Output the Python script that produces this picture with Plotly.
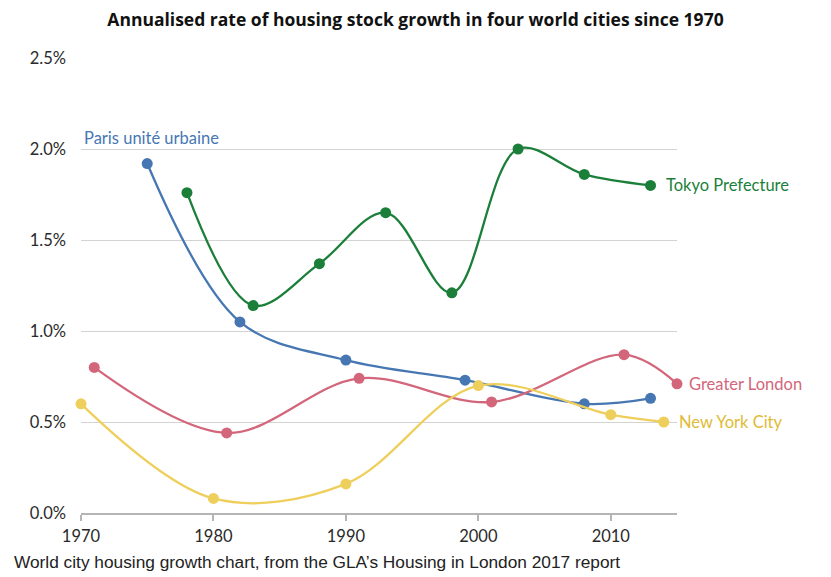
import plotly.graph_objects as go

paris_years = [1975, 1982, 1990, 1999, 2008, 2013]
paris_vals = [1.92, 1.05, 0.84, 0.73, 0.60, 0.63]

tokyo_years = [1978, 1983, 1988, 1993, 1998, 2003, 2008, 2013]
tokyo_vals = [1.76, 1.14, 1.37, 1.65, 1.21, 2.00, 1.86, 1.80]

london_years = [1971, 1981, 1991, 2001, 2011, 2015]
london_vals = [0.80, 0.44, 0.74, 0.61, 0.87, 0.71]

nyc_years = [1970, 1980, 1990, 2000, 2010, 2014]
nyc_vals = [0.60, 0.08, 0.16, 0.70, 0.54, 0.50]

x_ticks = [1970, 1980, 1990, 2000, 2010]
y_ticks = [0.0, 0.5, 1.0, 1.5, 2.0, 2.5]
y_tick_labels = ["0.0%", "0.5%", "1.0%", "1.5%", "2.0%", "2.5%"]

series = [
    ("Paris unité urbaine", paris_years, paris_vals, "#4677b3"),
    ("Tokyo Prefecture", tokyo_years, tokyo_vals, "#1b7f3a"),
    ("Greater London", london_years, london_vals, "#d3667a"),
    ("New York City", nyc_years, nyc_vals, "#efcf5c"),
]

W, H = 831, 577
ML, MR, MT, MB = 81, 154, 58, 64
PW, PH = W - ML - MR, H - MT - MB

fig = go.Figure()
for name, xs, ys, col in series:
    fig.add_trace(go.Scatter(
        x=xs, y=ys, name=name, mode="lines+markers",
        line=dict(color=col, width=2.3, shape="spline", smoothing=1.0),
        marker=dict(color=col, size=11),
        cliponaxis=False, showlegend=False,
    ))

label_font = "Lato, 'Open Sans', sans-serif"
lab_size = 16.5
fig.add_annotation(x=1970.05, y=2.0, xref="x", yref="y", text="Paris unité urbaine",
                   showarrow=False, xanchor="left", yanchor="bottom", yshift=-1,
                   font=dict(family=label_font, size=lab_size, color="#4677b3"))
fig.add_annotation(x=tokyo_years[-1], y=tokyo_vals[-1], xref="x", yref="y", text="Tokyo Prefecture",
                   showarrow=False, xanchor="left", yanchor="middle", xshift=13,
                   font=dict(family=label_font, size=lab_size, color="#1b7f3a"))
fig.add_annotation(x=london_years[-1], y=london_vals[-1], xref="x", yref="y", text="Greater London",
                   showarrow=False, xanchor="left", yanchor="middle", xshift=10,
                   font=dict(family=label_font, size=lab_size, color="#d3667a"))
fig.add_annotation(x=nyc_years[-1], y=nyc_vals[-1], xref="x", yref="y", text="New York City",
                   showarrow=False, xanchor="left", yanchor="middle", xshift=13,
                   font=dict(family=label_font, size=lab_size, color="#e0bb35"))

# Caption
fig.add_annotation(x=-(ML - 12) / PW, y=-(562 - (H - MB)) / PH, xref="paper", yref="paper",
                   text="World city housing growth chart, from the GLA’s Housing in London 2017 report",
                   showarrow=False, xanchor="left", yanchor="middle",
                   font=dict(family="'Liberation Sans', Arial, sans-serif", size=17.3, color="#222"))

tick_font = dict(family=label_font, size=16.5, color="#2a2a2a")

fig.update_layout(
    width=W, height=H,
    margin=dict(l=ML, r=MR, t=MT, b=MB, autoexpand=False),
    paper_bgcolor="white", plot_bgcolor="white",
    title=dict(text="<b>Annualised rate of housing stock growth in four world cities since 1970</b>",
               x=0.5, xanchor="center", y=1 - 20 / H, yanchor="middle",
               font=dict(family="'Open Sans', Lato, sans-serif", size=17.5, color="#111")),
    font=dict(family=label_font, size=16, color="#333"),
    xaxis=dict(range=[1970, 2015], tickvals=x_ticks, showgrid=False, zeroline=False,
               showline=True, linecolor="#b5b5b5", linewidth=2, ticks="outside",
               tickcolor="#b5b5b5", ticklen=6, tickwidth=1.5, ticklabelstandoff=1,
               tickfont=tick_font),
    yaxis=dict(range=[0, 2.5], tickvals=y_ticks, ticktext=y_tick_labels, showgrid=True,
               gridcolor="#d3d3d3", gridwidth=1.2, zeroline=False, showline=False,
               ticklabelstandoff=14,
               tickfont=tick_font),
)

fig.write_html("out.html", config={"displayModeBar": False},
               post_script="document.body.style.margin='0';document.body.style.padding='0';")
